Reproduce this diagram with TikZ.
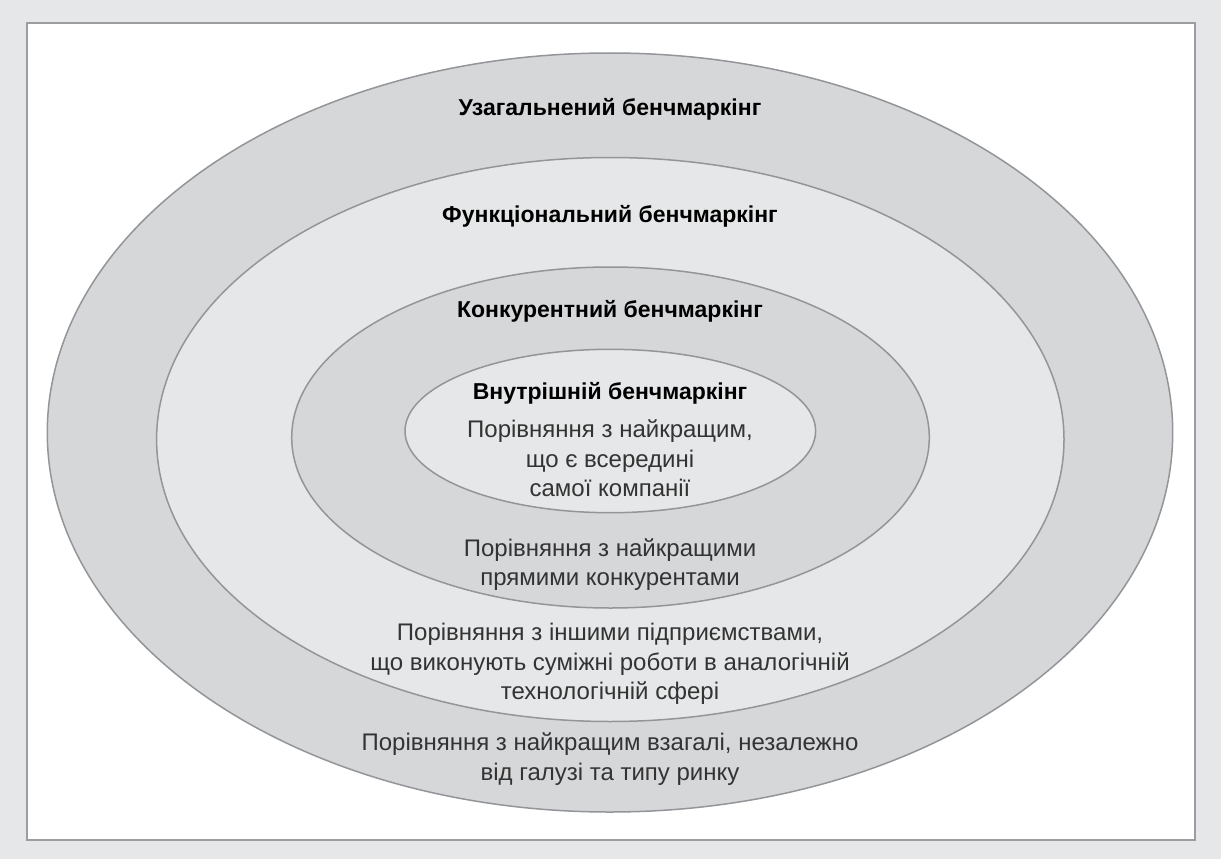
\documentclass[tikz,border=0pt]{standalone}
\usepackage{fontspec}
\setmainfont{Liberation Sans}
\usepackage{tikz}
\definecolor{pagegray}{HTML}{E6E7E8}
\definecolor{ringdark}{HTML}{D6D7D9}
\definecolor{ringlight}{HTML}{E6E7E8}
\definecolor{edgegray}{HTML}{939598}
\definecolor{framegray}{HTML}{9C9DA0}
\tikzset{
    ring/.style={draw=edgegray,line width=1.5pt},
    title/.style={font=\fontsize{23}{27}\selectfont\bfseries,text=black},
    descr/.style={font=\fontsize{24}{29.5}\selectfont,align=center,text=black!80}
}

\begin{document}
\begin{tikzpicture}[x=1pt,y=-1pt]
    \fill[pagegray] (0,0) rectangle (1221,859);
    \useasboundingbox (0,0) rectangle (1221,859);
    \draw[framegray,fill=white,line width=2pt] (27,23.5) rectangle (1195,840);
    \draw[ring,fill=ringdark] (610,432.5) ellipse [x radius=562.7pt, y radius=379.5pt];
    \draw[ring,fill=ringlight] (610.3,439.5) ellipse [x radius=453.7pt, y radius=282pt];
    \draw[ring,fill=ringdark] (610.5,437.5) ellipse [x radius=318.8pt, y radius=170.5pt];
    \draw[ring,fill=ringlight] (610.3,431) ellipse [x radius=205.3pt, y radius=81.7pt];
    \node[title] (general) at (610,109.5) {Узагальнений бенчмаркінг};
    \node[title] (functional) at (610,216) {Функціональний бенчмаркінг};
    \node[title] (competitive) at (610,311.5) {Конкурентний бенчмаркінг};
    \node[title] (internal) at (610,393) {Внутрішній бенчмаркінг};
    \node[descr] (internaltext) at (610,458.5) {Порівняння з найкращим,\\що є всередині\\самої компанії};
    \node[descr] (competitivetext) at (610,564.5) {Порівняння з найкращими\\прямими конкурентами};
    \node[descr] (functionaltext) at (610,664) {Порівняння з іншими підприємствами,\\що виконують суміжні роботи в аналогічній\\технологічній сфері};
    \node[descr] (generaltext) at (610,759) {Порівняння з найкращим взагалі, незалежно\\від галузі та типу ринку};
\end{tikzpicture}
\end{document}
